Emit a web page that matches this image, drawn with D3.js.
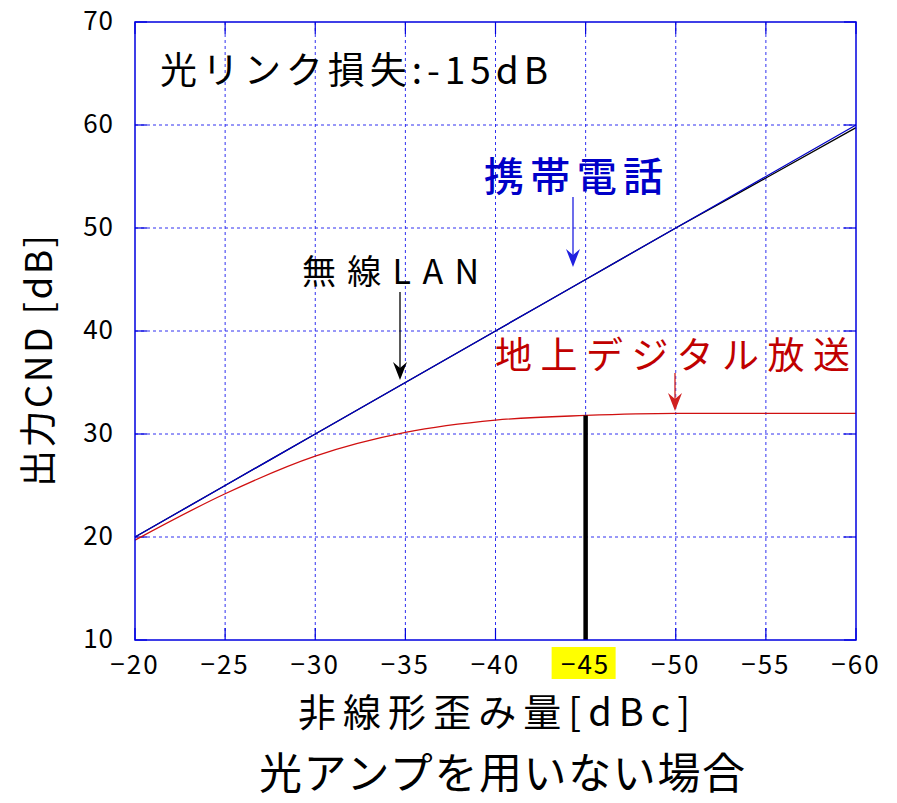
<!DOCTYPE html>
<html>
<head>
<meta charset="utf-8">
<script src="https://cdn.jsdelivr.net/npm/d3@7"></script>
<style>
  html, body { margin: 0; padding: 0; background: #fff; }
  svg { display: block; }
  text { font-family: "Noto Sans CJK JP", "Noto Sans", sans-serif; }
</style>
</head>
<body>
<svg id="chart" width="897" height="803"></svg>
<script>
// Non-linear distortion (dBc) vs output CND (dB), optical link loss -15 dB
const distortion = [-20, -25, -30, -35, -40, -45, -50, -55, -60];
const cellular   = [20, 25, 30, 35, 40, 45, 50, 55, 60];
const wirelessLan = [20, 25, 30, 35, 40, 45, 50, 54.85, 59.75];
const digitalTv  = [19.7, 24.2, 27.85, 30.15, 31.35, 31.8, 32.0, 32.0, 32.0];

const xTicks = [-20, -25, -30, -35, -40, -45, -50, -55, -60];
const xTickLabels = ["−20", "−25", "−30", "−35", "−40", "−45", "−50", "−55", "−60"];
const yTicks = [10, 20, 30, 40, 50, 60, 70];
const yTickLabels = ["10", "20", "30", "40", "50", "60", "70"];

const highlightTick = -45;
const markerLevel = 31.8;   // CND reached at the -45 dBc operating point

const svg = d3.select("#chart");
const pLeft = 135, pRight = 856, pTop = 22, pBottom = 640;

const x = d3.scaleLinear().domain([-20, -60]).range([pLeft, pRight]);
const y = d3.scaleLinear().domain([10, 70]).range([pBottom, pTop]);

const gridColor = "#3030f0";
const frameColor = "#0000e0";

// grid
const grid = svg.append("g");
grid.selectAll("line.gx").data(xTicks.slice(1, -1)).join("line")
  .attr("x1", d => x(d)).attr("x2", d => x(d))
  .attr("y1", pTop).attr("y2", pBottom)
  .attr("stroke", gridColor).attr("stroke-width", 1)
  .attr("stroke-dasharray", "3,3");
grid.selectAll("line.gy").data(yTicks.slice(1, -1)).join("line")
  .attr("x1", pLeft).attr("x2", pRight)
  .attr("y1", d => y(d)).attr("y2", d => y(d))
  .attr("stroke", gridColor).attr("stroke-width", 1)
  .attr("stroke-dasharray", "3,3");

// inward ticks on all four sides
const tickLen = 12;
const tg = svg.append("g").attr("stroke", frameColor).attr("stroke-width", 1.2);
yTicks.forEach(v => {
  tg.append("line").attr("x1", pLeft).attr("x2", pLeft + tickLen).attr("y1", y(v)).attr("y2", y(v));
  tg.append("line").attr("x1", pRight - tickLen).attr("x2", pRight).attr("y1", y(v)).attr("y2", y(v));
});
xTicks.forEach(v => {
  tg.append("line").attr("x1", x(v)).attr("x2", x(v)).attr("y1", pBottom).attr("y2", pBottom - tickLen);
  tg.append("line").attr("x1", x(v)).attr("x2", x(v)).attr("y1", pTop).attr("y2", pTop + tickLen);
});

// series lines
const line = vals => d3.line()
  .x((d, i) => x(distortion[i]))
  .y(d => y(d))
  .curve(d3.curveMonotoneX)(vals);

svg.append("path").attr("d", line(wirelessLan))
  .attr("fill", "none").attr("stroke", "#000").attr("stroke-width", 1.3);
svg.append("path").attr("d", line(cellular))
  .attr("fill", "none").attr("stroke", "#0000c8").attr("stroke-width", 1.3);
svg.append("path").attr("d", line(digitalTv))
  .attr("fill", "none").attr("stroke", "#d01010").attr("stroke-width", 1.3);

// operating point bar
svg.append("line")
  .attr("x1", x(highlightTick)).attr("x2", x(highlightTick))
  .attr("y1", y(10)).attr("y2", y(markerLevel))
  .attr("stroke", "#000").attr("stroke-width", 4.5);

// frame
svg.append("rect")
  .attr("x", pLeft).attr("y", pTop)
  .attr("width", pRight - pLeft).attr("height", pBottom - pTop)
  .attr("fill", "none").attr("stroke", frameColor).attr("stroke-width", 1.5);

// y tick labels
svg.append("g").selectAll("text").data(yTicks).join("text")
  .attr("x", 114).attr("y", d => y(d) + 8)
  .attr("text-anchor", "end")
  .attr("font-size", 26).attr("letter-spacing", 1).attr("fill", "#000")
  .text((d, i) => yTickLabels[i]);

// highlight behind -45
svg.append("rect")
  .attr("x", x(highlightTick) - 34).attr("y", 647)
  .attr("width", 64).attr("height", 32)
  .attr("fill", "#ffff00");

// x tick labels
svg.append("g").selectAll("text").data(xTicks).join("text")
  .attr("x", d => x(d)).attr("y", 674)
  .attr("text-anchor", "middle")
  .attr("font-size", 26).attr("letter-spacing", 2).attr("fill", "#000")
  .text((d, i) => xTickLabels[i]);

// axis titles
svg.append("text")
  .attr("x", 298).attr("y", 726)
  .attr("font-size", 38).attr("fill", "#000")
  .attr("textLength", 392).attr("lengthAdjust", "spacing")
  .text("非線形歪み量[dBc]");

svg.append("text")
  .attr("transform", "translate(52,361) rotate(-90)")
  .attr("text-anchor", "middle")
  .attr("font-size", 37).attr("fill", "#000")
  .attr("textLength", 252).attr("lengthAdjust", "spacing")
  .text("出力CND [dB]");

svg.append("text")
  .attr("x", 259).attr("y", 789)
  .attr("font-size", 43).attr("fill", "#000")
  .attr("textLength", 486).attr("lengthAdjust", "spacing")
  .text("光アンプを用いない場合");

// annotations
svg.append("text")
  .attr("x", 160).attr("y", 84)
  .attr("font-size", 37).attr("fill", "#000")
  .attr("textLength", 388).attr("lengthAdjust", "spacing")
  .text("光リンク損失:-15dB");

svg.append("text")
  .attr("x", 484).attr("y", 191)
  .attr("font-size", 40).attr("font-weight", 500).attr("fill", "#0000c8")
  .attr("textLength", 179).attr("lengthAdjust", "spacing")
  .text("携帯電話");

svg.append("text")
  .attr("x", 302).attr("y", 284)
  .attr("font-size", 34).attr("fill", "#000")
  .attr("textLength", 177).attr("lengthAdjust", "spacing")
  .text("無線LAN");

svg.append("text")
  .attr("x", 495).attr("y", 369)
  .attr("font-size", 37).attr("fill", "#c00000")
  .attr("textLength", 355).attr("lengthAdjust", "spacing")
  .text("地上デジタル放送");

// arrows
function arrow(xp, y0, y1, color) {
  svg.append("line")
    .attr("x1", xp).attr("x2", xp).attr("y1", y0).attr("y2", y1 - 6)
    .attr("stroke", color).attr("stroke-width", 1.3);
  svg.append("path")
    .attr("d", `M${xp},${y1} L${xp - 7},${y1 - 18} L${xp},${y1 - 12} L${xp + 7},${y1 - 18} Z`)
    .attr("fill", color);
}
arrow(573, 197, 267, "#2020e0");
arrow(400, 292, 380, "#000");
arrow(675, 373, 411, "#d02020");
</script>
</body>
</html>
